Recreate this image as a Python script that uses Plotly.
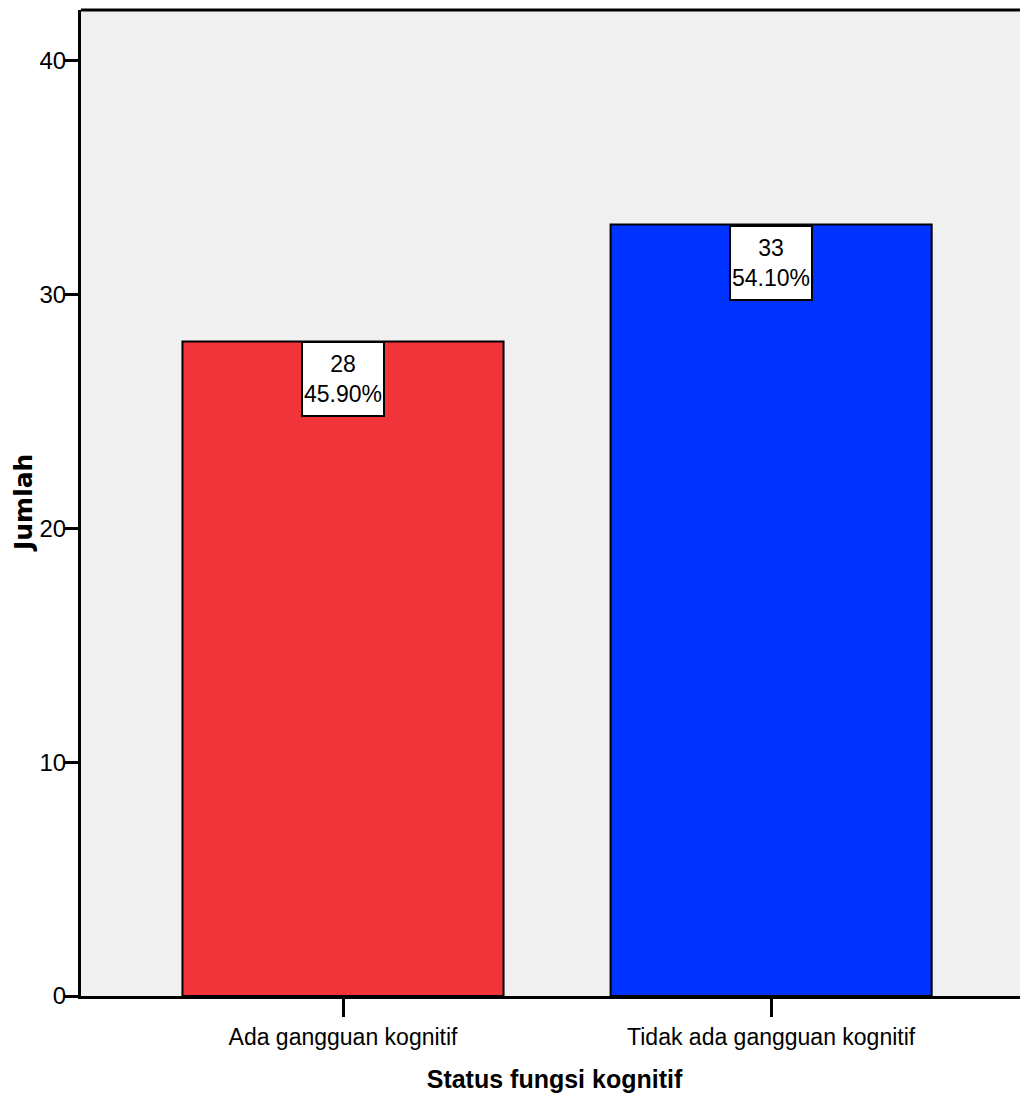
import plotly.graph_objects as go

categories = ["Ada gangguan kognitif", "Tidak ada gangguan kognitif"]
counts = [28, 33]
colors = ["#F0343A", "#0033FF"]

total = sum(counts)
labels = [f"{c}<br>{c / total * 100:.2f}%" for c in counts]

NARROW = "Liberation Sans, Arial, sans-serif"

fig = go.Figure()
fig.add_trace(go.Bar(
    x=categories,
    y=counts,
    width=0.75,
    marker=dict(color=colors, line=dict(color="black", width=2)),
    hoverinfo="skip",
))

for cat, c, lab in zip(categories, counts, labels):
    fig.add_annotation(
        x=cat, y=c, xref="x", yref="y",
        text=lab, showarrow=False,
        yanchor="top", xanchor="center",
        font=dict(family=NARROW, size=23, color="black"),
        bgcolor="white", bordercolor="black", borderwidth=2, borderpad=0,
        width=80, height=72,
    )

# y-axis title as a rotated annotation placed at the far left
fig.add_annotation(
    x=0, y=0.5, xref="paper", yref="paper",
    text="<b>Jumlah</b>", showarrow=False, textangle=-90,
    xanchor="center", yanchor="middle", xshift=-58,
    font=dict(family="DejaVu Sans, sans-serif", size=25, color="black"),
)

fig.add_shape(type="line", xref="paper", yref="paper", x0=0, x1=1, y0=1, y1=1,
              line=dict(color="black", width=3))

# page body has an 8px margin, so the figure is sized/offset to fit the window
fig.update_layout(
    width=1020, height=1096,
    margin=dict(l=73, r=0, t=2, b=108),
    paper_bgcolor="white",
    plot_bgcolor="#F0F0F0",
    showlegend=False,
    font=dict(family=NARROW, color="black"),
)
fig.update_xaxes(
    range=[-0.612, 1.6],
    automargin=False,
    showline=True, linecolor="black", linewidth=3,
    ticks="outside", ticklen=18, tickwidth=3, tickcolor="black",
    tickfont=dict(family=NARROW, size=23),
    title=dict(text="<b>Status fungsi kognitif</b>",
               font=dict(family=NARROW, size=25), standoff=22),
    showgrid=False, zeroline=False,
)
fig.update_yaxes(
    range=[0, 42.18],
    automargin=False,
    tickvals=[0, 10, 20, 30, 40],
    showline=True, linecolor="black", linewidth=3,
    ticks="outside", ticklen=14, tickwidth=3, tickcolor="black",
    ticklabelstandoff=-7,
    tickfont=dict(family=NARROW, size=24),
    showgrid=False, zeroline=False,
)

fig.write_html("out.html")
